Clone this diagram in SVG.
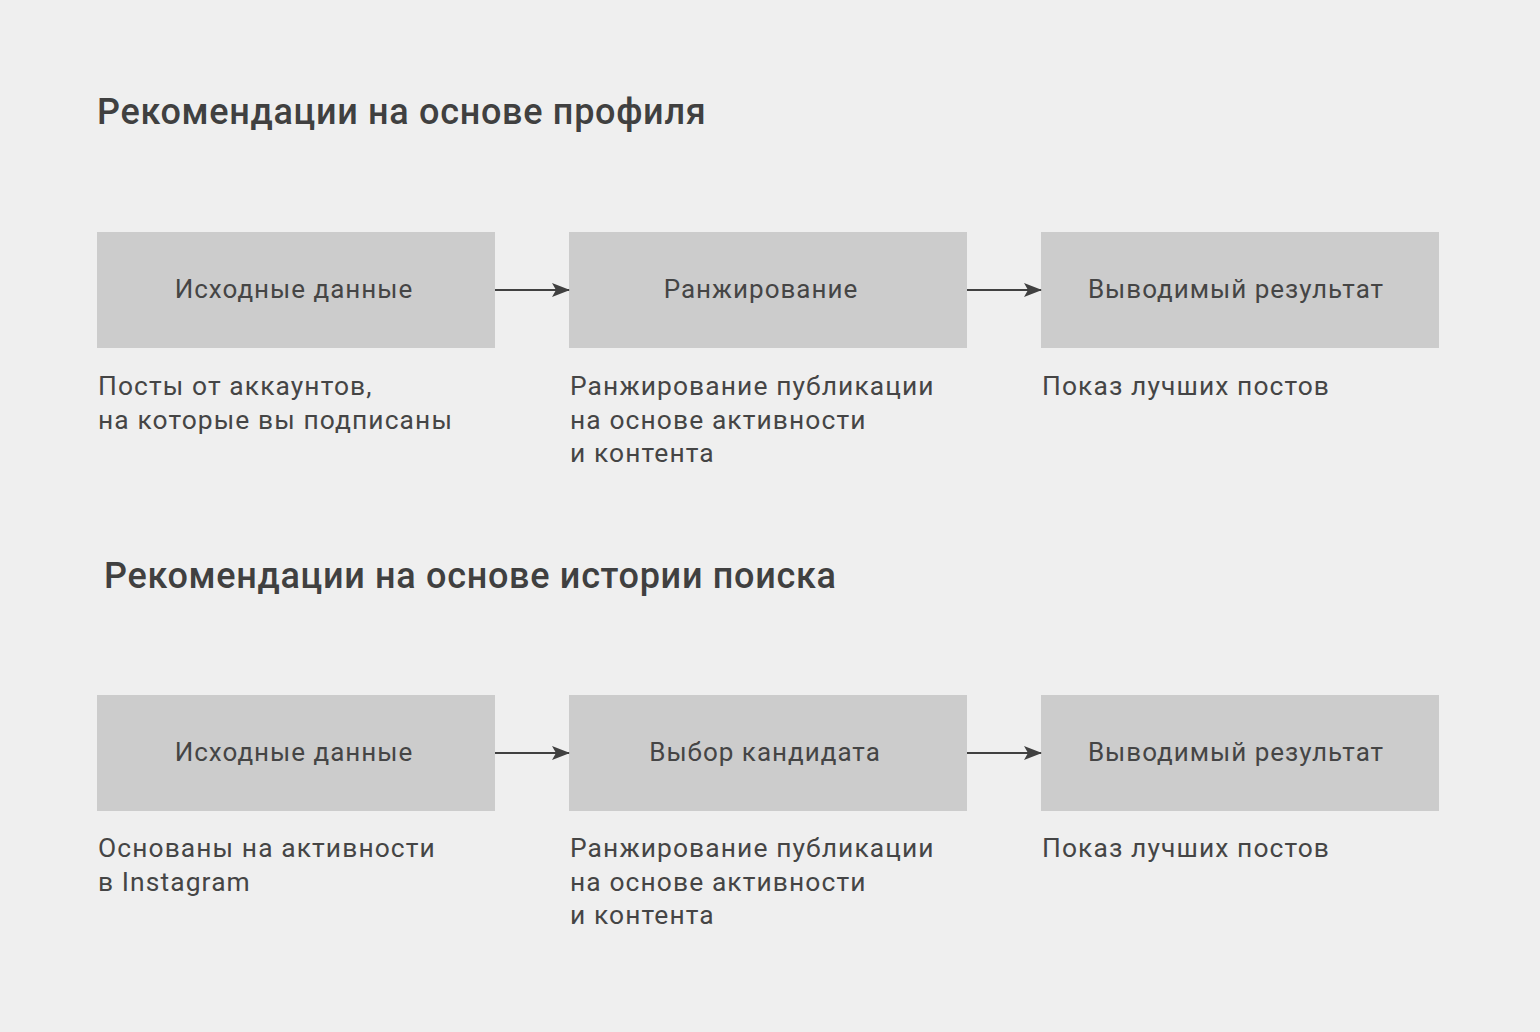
<svg xmlns="http://www.w3.org/2000/svg" width="1540" height="1032" viewBox="0 0 1540 1032">
<style>
.title{font-family:Roboto,"Liberation Sans",sans-serif;font-weight:500;font-size:36px;fill:#404040;letter-spacing:0.7px}
.box{fill:#cccccc}
.lbl{font-family:Roboto,"Liberation Sans",sans-serif;font-size:26px;fill:#454545;letter-spacing:1px}
.desc{font-family:Roboto,"Liberation Sans",sans-serif;font-size:26.4px;fill:#454545;letter-spacing:1.1px}
.con{stroke:#404040;stroke-width:2;fill:none}
</style>
<defs>
<marker id="ah" markerWidth="18" markerHeight="14" refX="17" refY="7" orient="auto" markerUnits="userSpaceOnUse">
<path d="M0,0 L18,7 L0,14 L4,7 Z" fill="#404040"/>
</marker>
</defs>
<rect width="1540" height="1032" fill="#efefef"/>
<text class="title" x="97" y="124">Рекомендации на основе профиля</text>
<text class="title" x="104" y="588">Рекомендации на основе истории поиска</text>
<g id="n1"><rect class="box" x="97" y="232" width="398" height="116"/><text class="lbl" x="294" y="298" text-anchor="middle">Исходные данные</text></g>
<g id="n2"><rect class="box" x="569" y="232" width="398" height="116"/><text class="lbl" x="761" y="298" text-anchor="middle">Ранжирование</text></g>
<g id="n3"><rect class="box" x="1041" y="232" width="398" height="116"/><text class="lbl" x="1236" y="298" text-anchor="middle">Выводимый результат</text></g>
<g id="n4"><rect class="box" x="97" y="695" width="398" height="116"/><text class="lbl" x="294" y="761" text-anchor="middle">Исходные данные</text></g>
<g id="n5"><rect class="box" x="569" y="695" width="398" height="116"/><text class="lbl" x="765" y="761" text-anchor="middle">Выбор кандидата</text></g>
<g id="n6"><rect class="box" x="1041" y="695" width="398" height="116"/><text class="lbl" x="1236" y="761" text-anchor="middle">Выводимый результат</text></g>
<g id="connectors">
<line class="con" x1="495" y1="290" x2="569" y2="290" marker-end="url(#ah)"/>
<line class="con" x1="967" y1="290" x2="1041" y2="290" marker-end="url(#ah)"/>
<line class="con" x1="495" y1="753" x2="569" y2="753" marker-end="url(#ah)"/>
<line class="con" x1="967" y1="753" x2="1041" y2="753" marker-end="url(#ah)"/>
</g>
<text class="desc"><tspan x="98" y="395">Посты от аккаунтов,</tspan><tspan x="98" y="429">на которые вы подписаны</tspan></text>
<text class="desc"><tspan x="570" y="395">Ранжирование публикации</tspan><tspan x="570" y="429">на основе активности</tspan><tspan x="570" y="462">и контента</tspan></text>
<text class="desc"><tspan x="1042" y="395">Показ лучших постов</tspan></text>
<text class="desc"><tspan x="98" y="857">Основаны на активности</tspan><tspan x="98" y="891">в Instagram</tspan></text>
<text class="desc"><tspan x="570" y="857">Ранжирование публикации</tspan><tspan x="570" y="891">на основе активности</tspan><tspan x="570" y="924">и контента</tspan></text>
<text class="desc"><tspan x="1042" y="857">Показ лучших постов</tspan></text>
</svg>
